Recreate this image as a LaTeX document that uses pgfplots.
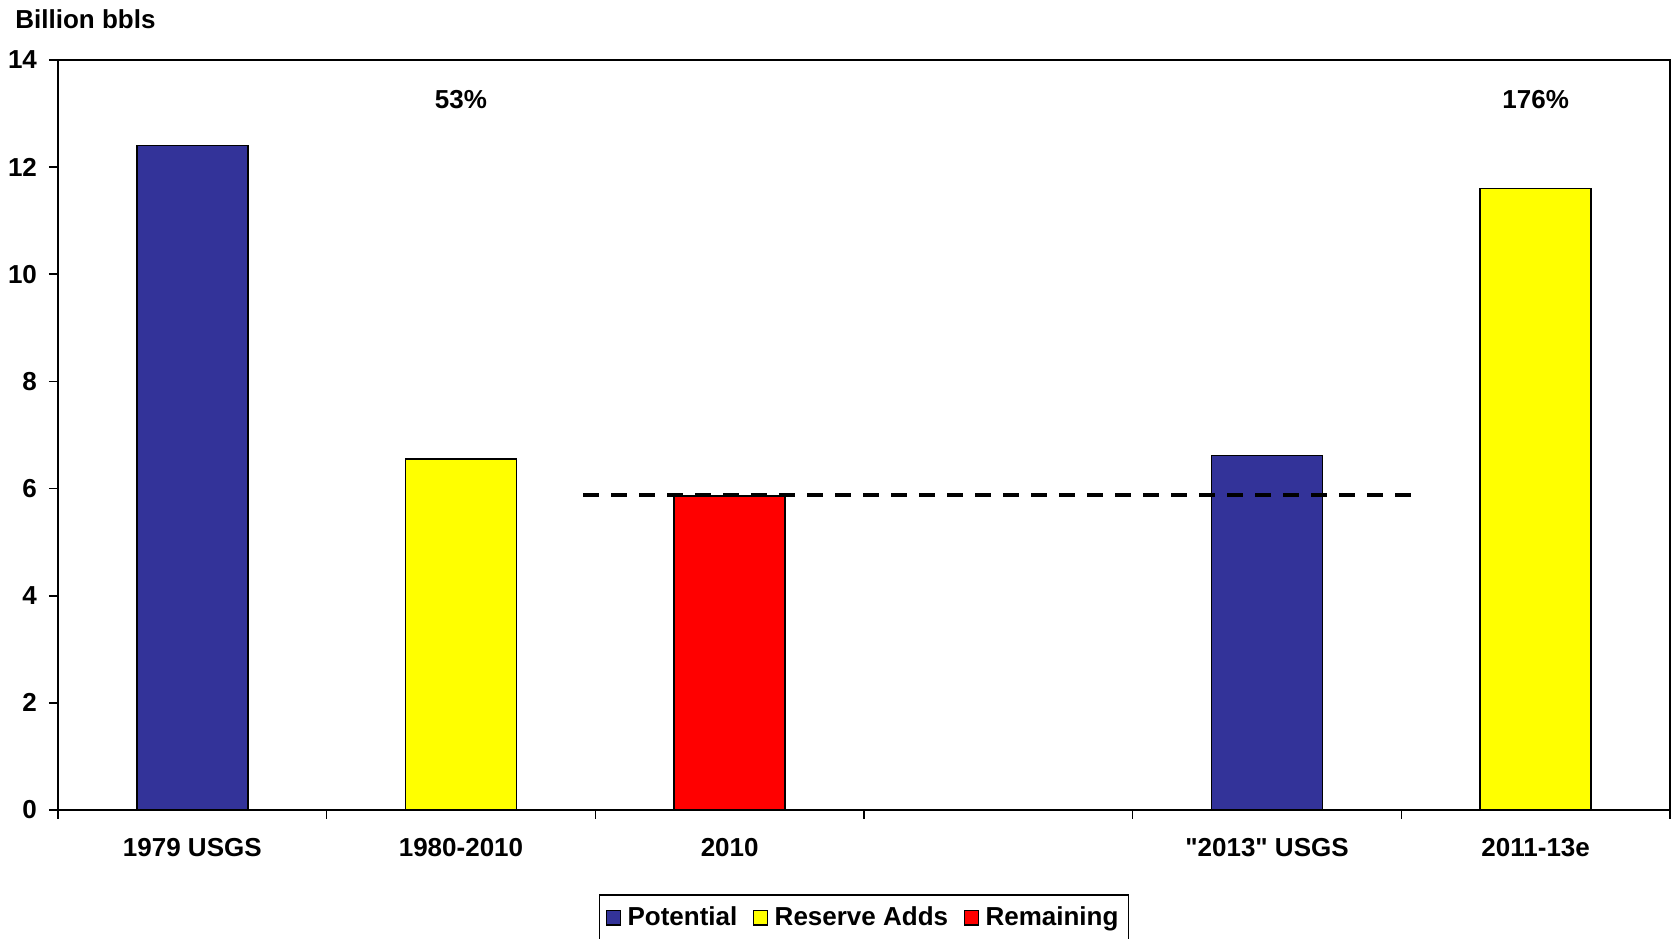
\documentclass[border=0pt]{standalone}
\usepackage{fontspec}
\setmainfont{Liberation Sans}
\usepackage{pgfplots}
\pgfplotsset{compat=1.18}
\definecolor{cblue}{HTML}{333399}
\definecolor{cyellow}{HTML}{FFFF00}
\definecolor{cred}{HTML}{FF0000}
\begin{document}
\begin{tikzpicture}[font=\fontsize{13}{15}\selectfont\bfseries]
\begin{axis}[
  name=ax,
  scale only axis, width=806pt, height=375pt,
  xmin=-0.5, xmax=5.5, ymin=0, ymax=14,
  ytick={0,2,...,14},
  xtick={0,1,2,3,4,5},
  xticklabels={1979 USGS,1980-2010,2010,{},{\textquotedbl 2013\textquotedbl\ USGS},2011-13e},
  minor xtick={-0.5,0.5,...,5.5},
  major x tick style={draw=none},
  tick align=outside,
  xtick pos=bottom, ytick pos=left,
  major tick length=4.5pt, minor tick length=4.5pt,
  tick style={black, line width=0.8pt},
  axis line style={line width=1pt},
  /pgf/number format/assume math mode=true,
  tick label style={font=\fontsize{13}{15}\selectfont\bfseries},
  xticklabel style={yshift=-6pt},
  yticklabel style={xshift=-2.5pt},
  ybar, bar shift=0pt, bar width=0.413,
  legend columns=3,
  legend style={at={(0.5,0)}, anchor=north, yshift=-42pt, draw=black, line width=0.8pt,
    font=\fontsize{13}{15}\selectfont\bfseries, inner ysep=4pt, inner xsep=3pt,
    /tikz/every odd column/.append style={column sep=1.2pt},
    /tikz/every even column/.append style={column sep=5.7pt}},
  legend image code/.code={\draw[#1, draw=black, line width=0.6pt] (0pt,-3.6pt) rectangle (7.2pt,3.6pt);},
  clip=false,
]
\addplot[fill=cblue, draw=black, line width=0.8pt] coordinates {(0,12.4) (4,6.62)};
\addlegendentry{Potential}
\addplot[fill=cyellow, draw=black, line width=0.8pt] coordinates {(1,6.55) (5,11.6)};
\addlegendentry{Reserve Adds}
\addplot[fill=cred, draw=black, line width=0.8pt] coordinates {(2,5.86)};
\addlegendentry{Remaining}
\addplot[sharp plot, black, line width=1.7pt, dash pattern=on 8pt off 6pt, forget plot] coordinates {(1.455,5.88) (4.54,5.88)};
\node at (axis cs:1,13.27) {53\%};
\node at (axis cs:5,13.27) {176\%};
\node[anchor=west, inner sep=0pt] at ([xshift=-21.5pt, yshift=20.5pt]rel axis cs:0,1) {Billion bbls};
\end{axis}
\pgfresetboundingbox
\path ([xshift=-29pt,yshift=-64.5pt]ax.south west) rectangle ([xshift=1.5pt,yshift=30pt]ax.north east);
\end{tikzpicture}
\end{document}
